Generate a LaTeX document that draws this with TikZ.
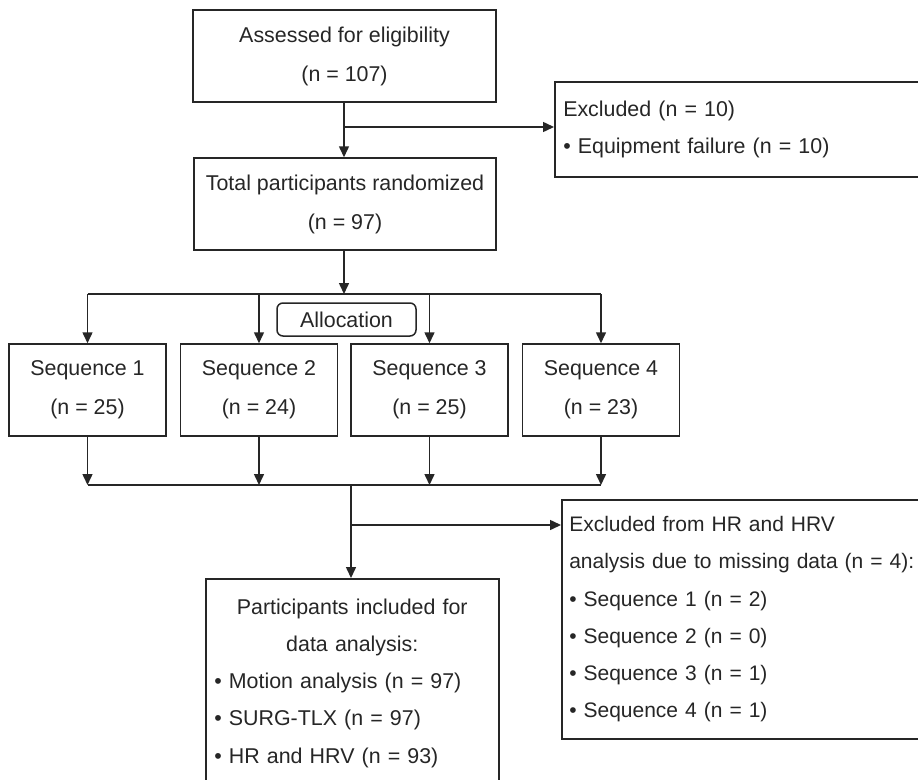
\documentclass[tikz,border=0pt]{standalone}
\usepackage{fontspec}
\setmainfont{Liberation Sans}
\usetikzlibrary{arrows.meta,positioning}
\definecolor{ink}{HTML}{262626}
\tikzset{
  box/.style={draw=ink, line width=1.5pt, text=ink, align=center, inner sep=0pt,
    font=\fontsize{21.4}{39}\selectfont},
  lbox/.style={draw=ink, line width=1.5pt, text=ink, align=left, inner xsep=8.5pt, inner ysep=0pt,
    anchor=north west, font=\fontsize{21.4}{37.2}\selectfont},
  seqbox/.style={box, minimum width=157pt, minimum height=92pt},
  allocbox/.style={draw=ink, line width=1.5pt, text=ink, rounded corners=6pt, inner sep=0pt,
    minimum width=139pt, minimum height=33pt, font=\fontsize{21.4}{26}\selectfont},
  conn/.style={draw=ink, line width=1.5pt},
  arr/.style={conn, -{Triangle[length=11pt,width=10pt]}}
}
\begin{document}
\begin{tikzpicture}[x=1pt,y=-1pt]
\useasboundingbox (0,0) rectangle (918,779);
\clip (0,0) rectangle (918,779);
\fill[white] (0,0) rectangle (918,779);

% top boxes
\node[box, minimum width=303pt, minimum height=92pt] (assess) at (344.5,56) {Assessed for eligibility\\(n = 107)};
\node[box, minimum width=302pt, minimum height=92pt] (rand) at (345,204) {Total participants randomized\\(n = 97)};
\node[lbox, minimum height=95pt, text width=403pt] (excl1) at (554,81) {Excluded (n = 10)\\\textbullet\ Equipment failure (n = 10)};

% allocation
\node[allocbox] (alloc) at (346.5,319.5) {Allocation};

% sequences
\node[seqbox] (seq1) at (87.5,390) {Sequence 1\\(n = 25)};
\node[seqbox] (seq2) at (259,390) {Sequence 2\\(n = 24)};
\node[seqbox] (seq3) at (429.5,390) {Sequence 3\\(n = 25)};
\node[seqbox] (seq4) at (601,390) {Sequence 4\\(n = 23)};

% bottom boxes
\node[lbox, minimum height=209pt, text width=276pt] (part) at (205,578)
  {\makebox[\linewidth][c]{Participants included for}\\
   \makebox[\linewidth][c]{data analysis:}\\
   \textbullet\ Motion analysis (n = 97)\\
   \textbullet\ SURG-TLX (n = 97)\\
   \textbullet\ HR and HRV (n = 93)};
\node[lbox, inner xsep=7.5pt, minimum height=239pt, text width=405pt,
      font=\fontsize{21}{37.2}\selectfont] (excl2) at (561,499)
  {Excluded from HR and HRV\\
   analysis due to missing data (n = 4):\\
   \textbullet\ Sequence 1 (n = 2)\\
   \textbullet\ Sequence 2 (n = 0)\\
   \textbullet\ Sequence 3 (n = 1)\\
   \textbullet\ Sequence 4 (n = 1)};

% junction coordinates
\coordinate (j1) at (344,127);
\coordinate (t0) at (344,294);
\coordinate (b0) at (351,485);
\coordinate (j2) at (351,525);

% connectors
\draw[arr] (j1 |- assess.south) -- (j1 |- rand.north);
\draw[arr] (j1) -- (j1 -| excl1.west);
\draw[arr] (t0 |- rand.south) -- (t0);
\draw[conn] (seq1.north |- t0) -- (seq4.north |- t0);
\foreach \s in {seq1,seq2,seq3,seq4}{
  \draw[arr] (\s.north |- t0) -- (\s.north);
  \draw[arr] (\s.south) -- (\s.south |- b0);
}
\draw[conn] (seq1.south |- b0) -- (seq4.south |- b0);
\draw[arr] (b0) -- (b0 |- part.north);
\draw[arr] (j2) -- (j2 -| excl2.west);
\end{tikzpicture}
\end{document}
